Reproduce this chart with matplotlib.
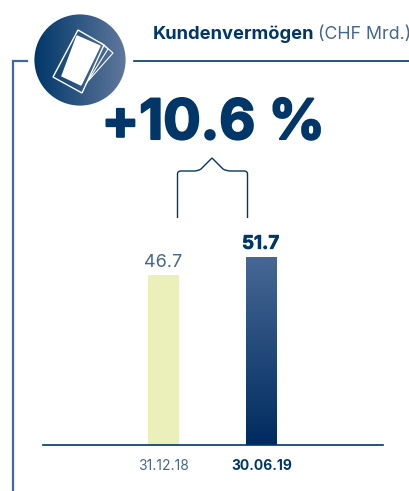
import numpy as np
import matplotlib
matplotlib.use('Agg')
import matplotlib.pyplot as plt
import matplotlib.patheffects as pe
from matplotlib.patches import Circle, Polygon, PathPatch
from matplotlib.path import Path
from matplotlib.colors import LinearSegmentedColormap

# Chart data
dates = ['31.12.18', '30.06.19']
values = [46.7, 51.7]
value_labels = ['46.7', '51.7']
change_label = '+10.6 %'

W, H = 410, 491
NAVY = '#003768'
LINE = '#3f6a99'
MUTED = '#45688f'

plt.rcParams['font.family'] = ['Inter', 'DejaVu Sans']

fig = plt.figure(figsize=(W / 100, H / 100), dpi=100)
fig.patch.set_facecolor('white')

# Overlay in pixel coordinates for frame, icon and title.
deco = fig.add_axes([0, 0, 1, 1])
deco.set_xlim(0, W)
deco.set_ylim(H, 0)
deco.axis('off')

deco.plot([27, 13.5, 13.5], [60.5, 60.5, 491], color=LINE, lw=1.6, solid_joinstyle='miter')
deco.plot([134, 410], [60.5, 60.5], color=NAVY, lw=1.2)

# Round icon with a horizontal gradient.
cmap_icon = LinearSegmentedColormap.from_list('icon', ['#003768', '#5f789d'])
grad = np.linspace(0, 1, 256).reshape(1, -1)
im = deco.imshow(grad, extent=(34, 126, 106, 14), cmap=cmap_icon, aspect='auto', zorder=2)
im.set_clip_path(Circle((80, 60), 45.6, transform=deco.transData))
deco.set_xlim(0, W)
deco.set_ylim(H, 0)

# Bank notes in the icon.
deco.plot([104, 113, 89], [45, 53, 80], color='white', lw=0.8, zorder=3)
deco.plot([101, 108, 86], [43, 49, 84], color='white', lw=0.8, zorder=3)
deco.add_patch(Polygon([(78, 30), (104, 45), (82, 93), (53, 77)], closed=True,
                       fc='none', ec='white', lw=1.0, zorder=3))
deco.add_patch(Polygon([(77, 36), (100, 46), (81, 85), (62, 76)], closed=True,
                       fc='white', ec='white', lw=1.0, zorder=4))

# Title, bold part followed by the unit.
deco.text(153, 34, 'Kundenvermögen', color=NAVY, fontsize=13.2,
          fontweight='bold', va='center', ha='left')
deco.text(318, 34, '(CHF Mrd.)', color=MUTED, fontsize=12.8, va='center', ha='left')

big = deco.text(213, 124, change_label, color=NAVY, fontsize=40, fontweight='bold',
                ha='center', va='center')
big.set_path_effects([pe.withStroke(linewidth=1.5, foreground=NAVY)])

# Bracket with the small peak.
verts = [(177.5, 218), (177.5, 174), (177.5, 171), (181, 171), (194, 171), (198, 171),
         (201, 169), (212, 158), (223, 169), (226, 171), (231, 171), (244, 171),
         (247.5, 171), (247.5, 174), (247.5, 218)]
codes = [Path.MOVETO, Path.LINETO, Path.CURVE3, Path.CURVE3, Path.LINETO, Path.CURVE3, Path.CURVE3,
         Path.LINETO, Path.LINETO, Path.CURVE3, Path.CURVE3, Path.LINETO, Path.CURVE3, Path.CURVE3,
         Path.LINETO]
deco.add_patch(PathPatch(Path(verts, codes), fill=False, ec=NAVY, lw=1.0))

# Bar axes, 3.64 px per CHF bn above the baseline at y=445.
ax_left, ax_right, ax_bottom, ax_top = 43, 383, 445, 200
ax = fig.add_axes([ax_left / W, 1 - ax_bottom / H, (ax_right - ax_left) / W, (ax_bottom - ax_top) / H])
ax.patch.set_alpha(0)
ax.set_xlim(-1.23, 2.24)
ax.set_ylim(0, (ax_bottom - ax_top) / 3.64)
for side in ['top', 'left', 'right']:
    ax.spines[side].set_visible(False)
ax.spines['bottom'].set_color(NAVY)
ax.spines['bottom'].set_linewidth(1.2)
ax.set_yticks([])
x = np.arange(len(values))
ax.set_xticks(x)
ax.set_xticklabels(dates)
ax.tick_params(axis='x', length=0, pad=10, labelsize=10, colors=MUTED)
ax.get_xticklabels()[1].set_fontweight('bold')
ax.get_xticklabels()[1].set_color(NAVY)

bars = ax.bar(x, values, width=0.316, color=['#ebf0bb', 'none'], linewidth=0, zorder=2)

# Second bar has a vertical gradient.
cmap_bar = LinearSegmentedColormap.from_list('bar', ['#476894', '#002b60'])
r = bars[1]
bar_im = ax.imshow(np.linspace(0, 1, 256).reshape(-1, 1), cmap=cmap_bar, aspect='auto', zorder=2,
                   extent=(r.get_x(), r.get_x() + r.get_width(), 0, r.get_height()), origin='upper')
bar_im.set_clip_path(r)
ax.set_xlim(-1.23, 2.24)
ax.set_ylim(0, (ax_bottom - ax_top) / 3.64)

ax.text(x[0], values[0] + 1.1, value_labels[0], ha='center', va='bottom', color=MUTED, fontsize=13)
ax.text(x[1] - 0.01, values[1] + 1.1, value_labels[1], ha='center', va='bottom', color=NAVY, fontsize=13.5,
        fontweight='bold', path_effects=[pe.withStroke(linewidth=0.5, foreground=NAVY)])

fig.savefig('out.png', dpi=100)
